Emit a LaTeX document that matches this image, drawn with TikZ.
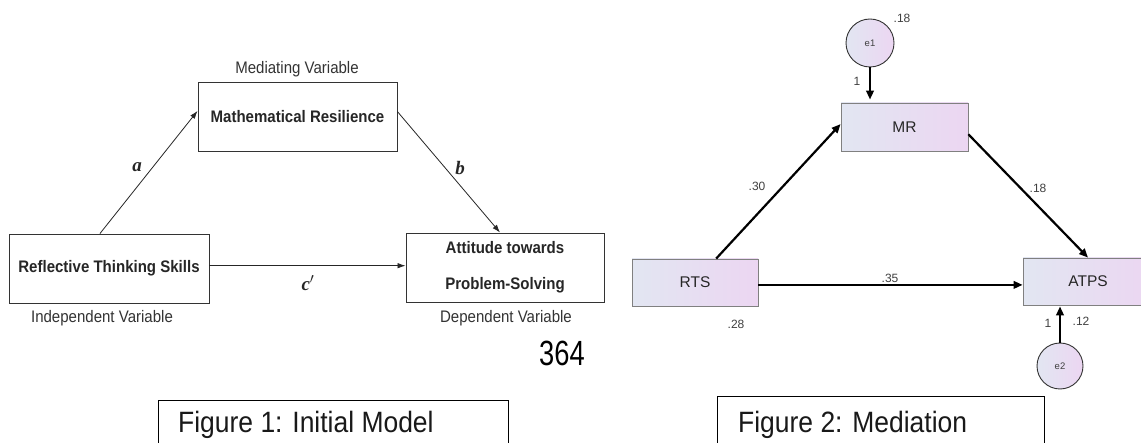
\documentclass[tikz,border=0pt]{standalone}
\usepackage{fontspec}
\setmainfont{Liberation Sans}
\newfontfamily\nsans[FakeStretch=0.9]{Liberation Sans}
\newfontfamily\pnum[FakeStretch=0.78]{Liberation Sans}
\newfontfamily\sit{Liberation Serif}
\usetikzlibrary{calc,arrows.meta}
\definecolor{boxL}{RGB}{226,230,242}
\definecolor{boxR}{RGB}{236,214,242}
\begin{document}
\begin{tikzpicture}[x=1pt,y=-1pt,
  lbox/.style={draw=black!80, line width=0.9pt, minimum width=200pt, minimum height=69pt, inner sep=0pt, text=black!85, font=\nsans\bfseries\fontsize{16.7}{20}\selectfont},
  lbl/.style={inner sep=0pt, text=black!80, font=\nsans\fontsize{16.7}{20}\selectfont},
  pathlbl/.style={inner sep=0pt, text=black!85, font=\sit\bfseries\itshape\fontsize{19}{22}\selectfont},
  larr/.style={draw=black!85, line width=0.8pt, -{Latex[length=8pt,width=5.5pt]}},
  rbox/.style={draw=black!50, line width=0.8pt, left color=boxL, right color=boxR, inner sep=0pt, text=black!85, font=\fontsize{15.5}{18}\selectfont},
  ecirc/.style={circle, draw=black!80, line width=0.9pt, left color=boxL, right color=boxR, inner sep=0pt, text=black!75, font=\fontsize{9.5}{11}\selectfont},
  rarr/.style={draw=black, line width=2.2pt, -{Triangle[length=9pt,width=7.5pt]}},
  num/.style={inner sep=0pt, text=black!75, font=\fontsize{12}{14}\selectfont},
  capbox/.style={draw=black, line width=1.1pt, anchor=north west, inner sep=0pt},
  captxt/.style={anchor=base west, inner sep=0pt, text=black!90, font=\nsans\fontsize{29.4}{32}\selectfont}
]
\clip (0,0) rectangle (1141,443);
\fill[white] (0,0) rectangle (1141,443);

% ---------- Figure 1 ----------
\node[lbox, minimum width=199pt] (mr) at (297.5,116.5) {Mathematical Resilience};
\node[lbox] (rts) at (109,268.5) {Reflective Thinking Skills};
\node[lbox, minimum width=198pt, align=center] (atps) at (505,267.5) {Attitude towards\\[16pt]Problem-Solving};

\node[lbl] (medlab) at (297,69) {Mediating Variable};
\node[lbl] (indlab) at (102,318) {Independent Variable};
\node[lbl] (deplab) at (506,318) {Dependent Variable};

\draw[larr] ($(rts.north west)!0.455!(rts.north east)$) -- ($(mr.north west)!0.42!(mr.south west)$);
\draw[larr] ($(mr.north east)!0.43!(mr.south east)$) -- ($(atps.north west)!0.475!(atps.north east)$);
\coordinate (cst) at ($(rts.north east)!0.46!(rts.south east)$);
\draw[larr] (cst) -- (cst -| atps.west);

\node[pathlbl] (la) at (137,167) {a};
\node[pathlbl] (lb) at (460,168) {b};
\node[pathlbl] (lc) at (308,283) {c$'$};

\node[anchor=base, inner sep=0pt, text=black] (page) at (562,366) {\pnum\fontsize{35}{38}\selectfont 364};

\node[capbox, minimum width=350pt, minimum height=70pt] (cap1) at (158,400) {};
\node[captxt] (cap1t) at (178,433) {Figure 1: Initial Model};

% ---------- Figure 2 ----------
\node[rbox, minimum width=127pt, minimum height=48pt] (mr2) at (904.5,127) {MR};
\node[rbox, minimum width=126pt, minimum height=47pt] (rts2) at (695,282.5) {RTS};
\node[rbox, minimum width=130pt, minimum height=47pt] (atps2) at (1088,281.5) {ATPS};
\node[ecirc, minimum size=48pt] (e1) at (870,43) {e1};
\node[ecirc, minimum size=46pt] (e2) at (1060,366) {e2};

\draw[rarr, shorten >=3pt] (e1.south) -- (e1.south |- mr2.north);
\draw[rarr] ($(rts2.north west)!0.667!(rts2.north east)$) -- ($(mr2.north west)!0.44!(mr2.south west)$);
\draw[rarr] ($(mr2.north east)!0.65!(mr2.south east)$) -- (atps2.north);
\coordinate (h1) at ($(rts2.north east)!0.55!(rts2.south east)$);
\draw[rarr] (h1) -- (h1 -| atps2.west);
\draw[rarr, shorten >=1pt] (e2.north) -- (e2.north |- atps2.south);

\node[num] (v1) at (902,18) {.18};
\node[num] (w1) at (857,81) {1};
\node[num] (p30) at (757,186) {.30};
\node[num] (p18) at (1038,188) {.18};
\node[num] (p35) at (890,278) {.35};
\node[num] (v28) at (736,324) {.28};
\node[num] (w2) at (1048,323) {1};
\node[num] (v12) at (1081,321) {.12};

\node[capbox, minimum width=327pt, minimum height=70pt] (cap2) at (717,396) {};
\node[captxt] (cap2t) at (738,433) {Figure 2: Mediation};
\end{tikzpicture}
\end{document}
